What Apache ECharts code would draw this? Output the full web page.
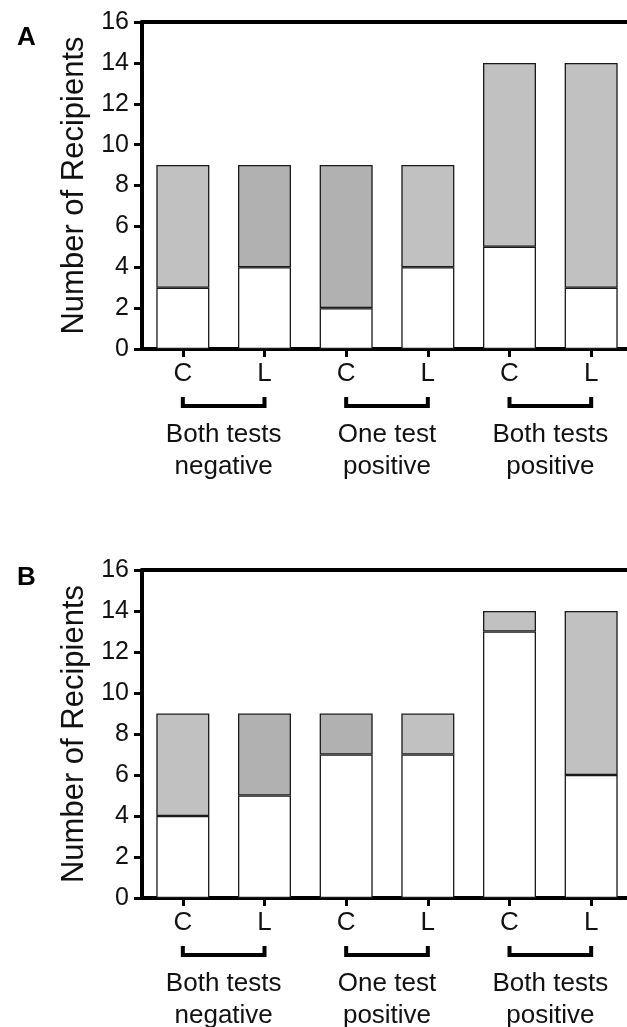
<!DOCTYPE html>
<html>
<head>
<meta charset="utf-8">
<script src="https://cdn.jsdelivr.net/npm/echarts@6/dist/echarts.min.js"></script>
<style>html,body{margin:0;padding:0;background:#fff}#c{width:627px;height:1027px}</style>
</head>
<body>
<div id="c"></div>
<script>
// ---- data ----
const categories = ['C', 'L', 'C', 'L', 'C', 'L'];
const groupLabels = ['Both tests\nnegative', 'One test\npositive', 'Both tests\npositive'];
const groupPairs = [[0, 1], [2, 3], [4, 5]];
const yTicks = { min: 0, max: 16, interval: 2 };
const panelLetters = ['A', 'B'];
const yAxisName = 'Number of Recipients';

const aBottom = [3, 4, 2, 4, 5, 3];
const aTop = [6, 5, 7, 5, 9, 11];
const bBottom = [4, 5, 7, 7, 13, 6];
const bTop = [5, 4, 2, 2, 1, 8];

const LIGHT = '#c1c1c1', DARK = '#b1b1b1';
const aTopShade = [LIGHT, DARK, DARK, LIGHT, LIGHT, LIGHT];
const bTopShade = [LIGHT, DARK, DARK, LIGHT, LIGHT, LIGHT];

// ---- chart ----
const FONT = 'Liberation Sans, Arial, Helvetica, sans-serif';
const chart = echarts.init(document.getElementById('c'), null, { renderer: 'canvas' });

const grids = [
  { left: 142, top: 22, width: 490, height: 327, outerBoundsMode: 'none', containLabel: false },
  { left: 142, top: 570, width: 490, height: 328, outerBoundsMode: 'none', containLabel: false }
];

const xAxes = [], yAxes = [], series = [], titles = [];
const panels = [[aBottom, aTop, aTopShade], [bBottom, bTop, bTopShade]];

panels.forEach(([bottom, top, shade], g) => {
  const base = xAxes.length;
  // bar axis (bottom)
  xAxes.push({
    type: 'category', gridIndex: g, data: categories, position: 'bottom',
    boundaryGap: true,
    axisLine: { show: true, lineStyle: { color: '#000', width: 4 } },
    axisTick: { show: true, alignWithLabel: true, length: 8, lineStyle: { color: '#000', width: 3 } },
    axisLabel: { color: '#111', fontSize: 26, fontFamily: FONT, margin: 12 },
    splitLine: { show: false }
  });
  // top line
  xAxes.push({
    type: 'category', gridIndex: g, data: groupLabels, position: 'top',
    axisLine: { show: true, lineStyle: { color: '#000', width: 4 } },
    axisTick: { show: false }, axisLabel: { show: false }, splitLine: { show: false }
  });
  // group labels
  xAxes.push({
    type: 'category', gridIndex: g, data: groupLabels, position: 'bottom',
    boundaryGap: true,
    axisLine: { show: false }, axisTick: { show: false }, splitLine: { show: false },
    axisLabel: { color: '#111', fontSize: 26, fontFamily: FONT, margin: 70, lineHeight: 32, interval: 0 }
  });
  yAxes.push({
    type: 'value', gridIndex: g, min: yTicks.min, max: yTicks.max, interval: yTicks.interval,
    name: yAxisName, nameLocation: 'middle', nameGap: 52,
    nameTextStyle: { color: '#111', fontSize: 31, fontFamily: FONT },
    axisLine: { show: true, lineStyle: { color: '#000', width: 4 } },
    axisTick: { show: true, length: 8, lineStyle: { color: '#000', width: 3 } },
    axisLabel: { color: '#111', fontSize: 25, fontFamily: FONT, margin: 13 },
    splitLine: { show: false }
  });
  const border = { borderColor: '#1a1a1a', borderWidth: 1.3 };
  series.push({
    type: 'bar', xAxisIndex: base, yAxisIndex: g, stack: 's' + g, barWidth: 53,
    data: bottom, itemStyle: Object.assign({ color: '#fff' }, border), silent: true
  });
  series.push({
    type: 'bar', xAxisIndex: base, yAxisIndex: g, stack: 's' + g, barWidth: 53,
    data: top.map((v, i) => ({ value: v, itemStyle: { color: shade[i] } })),
    itemStyle: Object.assign({}, border), silent: true
  });
  // brackets under C/L pairs
  series.push({
    type: 'custom', xAxisIndex: base, yAxisIndex: g, clip: false, silent: true,
    data: groupPairs,
    encode: { x: [0, 1] },
    renderItem: (params, api) => {
      const p0 = api.coord([api.value(0), 0]);
      const p1 = api.coord([api.value(1), 0]);
      return {
        type: 'polyline',
        shape: { points: [[p0[0], p0[1] + 48], [p0[0], p0[1] + 57], [p1[0], p1[1] + 57], [p1[0], p1[1] + 48]] },
        style: { stroke: '#000', lineWidth: 4, fill: null, lineJoin: 'miter', lineCap: 'butt' }
      };
    }
  });
  titles.push({
    text: panelLetters[g], left: 12, top: g === 0 ? 20 : 560,
    textStyle: { color: '#000', fontSize: 26, fontWeight: 'bold', fontFamily: FONT }
  });
});

chart.setOption({
  backgroundColor: '#fff',
  animation: false,
  title: titles,
  grid: grids,
  xAxis: xAxes,
  yAxis: yAxes,
  series: series
});
</script>
</body>
</html>
